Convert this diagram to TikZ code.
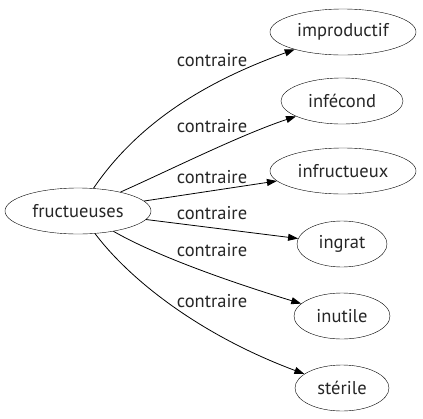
\documentclass[tikz,border=0pt]{standalone}
\usepackage{fontspec}
\setmainfont{PT Sans}
\usetikzlibrary{shapes.geometric,arrows.meta}
\begin{document}
\begin{tikzpicture}[x=1bp,y=-1bp,
  every node/.style={font=\fontsize{18.5bp}{20bp}\selectfont, text=black!85},
  term/.style={draw, ellipse, inner sep=0pt, minimum height=46bp},
  rel/.style={},
  edge/.style={draw, line width=0.8pt, -{Triangle[length=10bp,width=7bp]}}]
\useasboundingbox (0,0) rectangle (423,419);
\node[term, minimum width=146bp] (src) at (78,211) {fructueuses};
\node[term, minimum width=146bp] (t1) at (343,32) {improductif};
\node[term, minimum width=122bp] (t2) at (342,101) {infécond};
\node[term, minimum width=146bp] (t3) at (343,171) {infructueux};
\node[term, minimum width=90bp] (t4) at (342,244) {ingrat};
\node[term, minimum width=96bp] (t5) at (342,316) {inutile};
\node[term, minimum width=94bp] (t6) at (342,388) {stérile};
\draw[edge] (src) .. controls (140,120) and (210,80) .. (t1);
\draw[edge] (src) .. controls (170,170) and (240,135) .. (t2);
\draw[edge] (src) -- (t3);
\draw[edge] (src) -- (t4);
\draw[edge] (src) .. controls (160,258) and (240,285) .. (t5);
\draw[edge] (src) .. controls (130,280) and (200,335) .. (t6);
\node[rel] (l1) at (212,60) {contraire};
\node[rel] (l2) at (212,126) {contraire};
\node[rel] (l3) at (212,177) {contraire};
\node[rel] (l4) at (212,213) {contraire};
\node[rel] (l5) at (212,250) {contraire};
\node[rel] (l6) at (212,301) {contraire};
\end{tikzpicture}
\end{document}
